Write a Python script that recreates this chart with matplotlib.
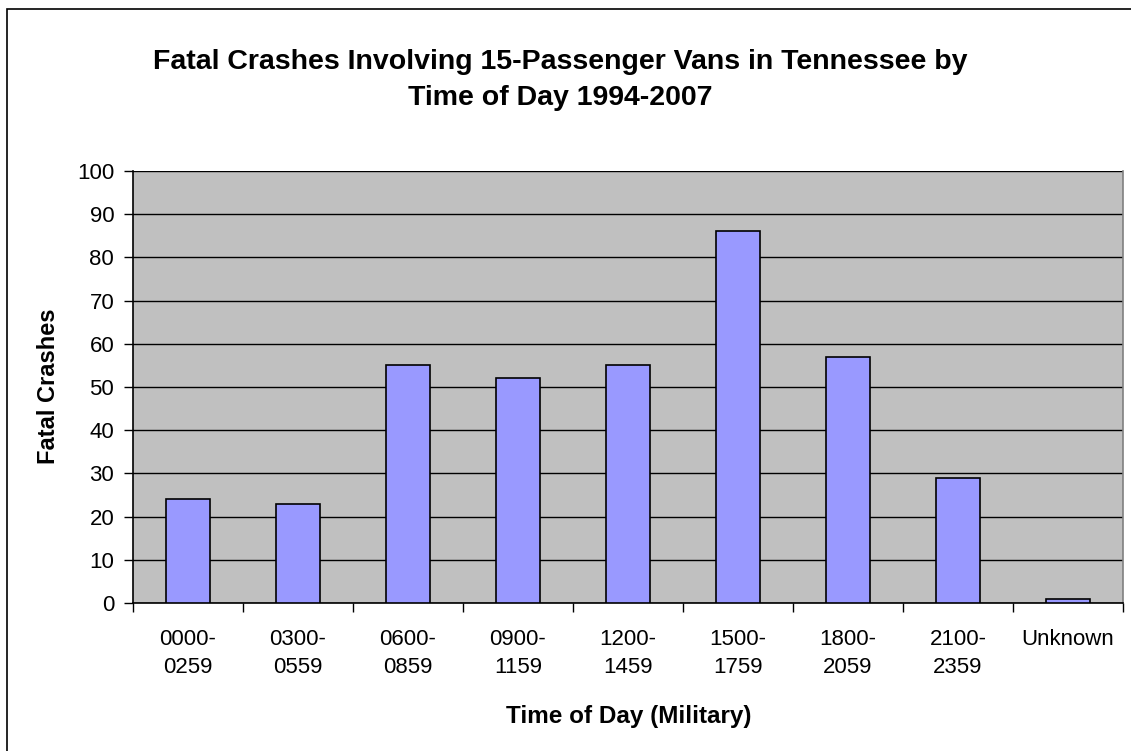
import matplotlib.pyplot as plt
from matplotlib.patches import Rectangle
import numpy as np

plt.rcParams['font.family'] = ['Liberation Sans', 'DejaVu Sans']

# data
categories = ['0000-\n0259', '0300-\n0559', '0600-\n0859', '0900-\n1159', '1200-\n1459',
              '1500-\n1759', '1800-\n2059', '2100-\n2359', 'Unknown']
crashes = [24, 23, 55, 52, 55, 86, 57, 29, 1]
y_ticks = list(range(0, 101, 10))

W, H = 1131, 751
fig = plt.figure(figsize=(W / 100, H / 100), dpi=100)
fig.patch.set_facecolor('white')

# outer chart border (only top and left are inside the picture)
fig.patches.append(Rectangle((7 / W, -0.1), 1.2, (H - 9) / H + 0.1, transform=fig.transFigure,
                             fill=False, edgecolor='black', linewidth=1.2, clip_on=False))

ax = fig.add_axes([133 / W, (H - 603) / H, (1123 - 133) / W, (603 - 171) / H])
ax.set_facecolor('#C0C0C0')

x = np.arange(len(categories))
ax.bar(x, crashes, width=0.4, color='#9999FF', edgecolor='black', linewidth=1.2, zorder=3)

ax.set_xlim(-0.5, len(categories) - 0.5)
ax.set_ylim(0, 100)
ax.set_yticks(y_ticks)
ax.yaxis.grid(True, color='black', linewidth=1.0, zorder=1)
ax.set_axisbelow(True)

# category labels centred, tick marks between categories
ax.set_xticks(x)
ax.set_xticklabels(categories, fontsize=16, linespacing=1.45)
ax.tick_params(axis='x', length=0, pad=18.5)
ax.set_xticks(np.arange(-0.5, len(categories), 1), minor=True)
ax.tick_params(axis='x', which='minor', length=6.5, width=1, direction='out')
ax.tick_params(axis='y', length=6.5, width=1, direction='out', labelsize=16, pad=7)

for s in ['left', 'bottom']:
    ax.spines[s].set_color('black')
    ax.spines[s].set_linewidth(1.2)
ax.spines['top'].set_visible(False)
ax.spines['right'].set_color('#808080')
ax.spines['right'].set_linewidth(1.2)

fig.text(629 / W, 1 - 717 / H, 'Time of Day (Military)', ha='center', va='center',
         fontsize=17.5, fontweight='bold')
fig.text(49 / W, 1 - 386 / H, 'Fatal Crashes', ha='center', va='center', rotation=90,
         fontsize=17, fontweight='bold')

fig.text(560 / W, 1 - 80 / H, 'Fatal Crashes Involving 15-Passenger Vans in Tennessee by\nTime of Day 1994-2007',
         ha='center', va='center', fontsize=20.5, fontweight='bold', linespacing=1.5)

fig.savefig('out.png', dpi=100)
